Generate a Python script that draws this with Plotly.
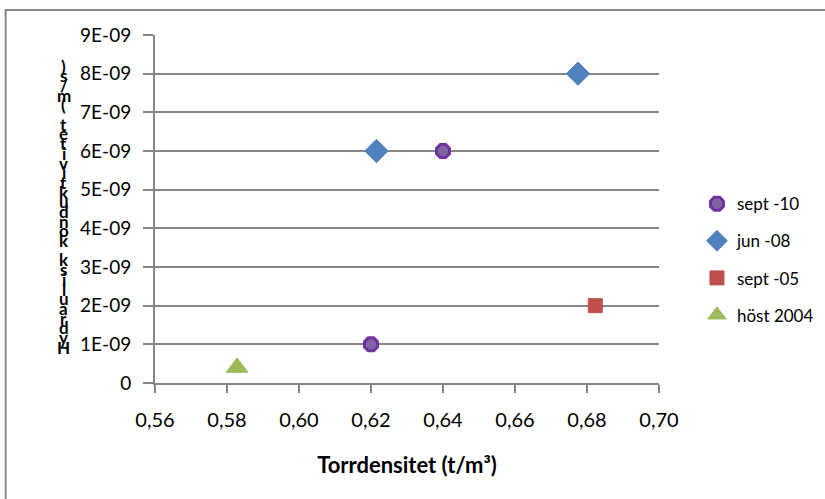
import plotly.graph_objects as go

# ---- data ----
series_names = ["sept -10", "jun -08", "sept -05", "höst 2004"]
sept10_x = [0.640, 0.620]
sept10_y = [6.0e-9, 1.0e-9]
jun08_x = [0.6215, 0.6775]
jun08_y = [6.0e-9, 8.0e-9]
sept05_x = [0.6823]
sept05_y = [2.0e-9]
host04_x = [0.5828]
host04_y = [0.40e-9]

x_tickvals = [0.56, 0.58, 0.60, 0.62, 0.64, 0.66, 0.68, 0.70]
x_ticktext = ["0,56", "0,58", "0,60", "0,62", "0,64", "0,66", "0,68", "0,70"]
y_tickvals = [0, 1e-9, 2e-9, 3e-9, 4e-9, 5e-9, 6e-9, 7e-9, 8e-9, 9e-9]
y_ticktext = ["0", "1E-09", "2E-09", "3E-09", "4E-09", "5E-09", "6E-09", "7E-09", "8E-09", "9E-09"]

x_title = "Torrdensitet (t/m³)"
y_title = "Hydraulisk konduktivitet (m/s)"

# ---- layout geometry ----
W, H = 825, 499
L, R, T, B = 154.5, 825 - 659, 35, 499 - 382.7
PW, PH = W - L - R, H - T - B

def px2paper_x(px):
    return (px - L) / PW

def px2paper_y(py):
    return (H - B - py) / PH

FONT = "Lato"
GRID = "#868686"

fig = go.Figure()
fig.add_trace(go.Scatter(x=sept10_x, y=sept10_y, mode="markers", name=series_names[0],
                         legendgroup="a",
                         marker=dict(symbol="octagon", size=14, color="#8064A2",
                                     line=dict(color="#7030A0", width=3))))
fig.add_trace(go.Scatter(x=jun08_x, y=jun08_y, mode="markers", name=series_names[1],
                         legendgroup="b",
                         marker=dict(symbol="diamond", size=18, color="#4F81BD",
                                     line=dict(color="#4F81BD", width=1))))
fig.add_trace(go.Scatter(x=sept05_x, y=sept05_y, mode="markers", name=series_names[2],
                         legendgroup="c",
                         marker=dict(symbol="square", size=14, color="#C0504D",
                                     line=dict(color="#C0504D", width=1))))
fig.add_trace(go.Scatter(x=host04_x, y=host04_y, mode="markers", name=series_names[3],
                         legendgroup="d",
                         marker=dict(symbol="triangle-up", size=19, color="#9BBB59",
                                     line=dict(color="#9BBB59", width=1))))

# stacked y-axis title, one character per line (bottom = first char)
annotations = []
step = 9.69
for i, ch in enumerate(y_title):
    if ch == " ":
        continue
    annotations.append(dict(text=ch, xref="paper", yref="paper",
                            x=px2paper_x(63), y=px2paper_y(347 - i * step),
                            xanchor="center", yanchor="middle", showarrow=False,
                            font=dict(family=FONT, size=17, color="black", weight="bold")))

fig.update_layout(
    width=W, height=H,
    margin=dict(l=L, r=R, t=T, b=B, pad=0, autoexpand=False),
    paper_bgcolor="white", plot_bgcolor="white",
    font=dict(family=FONT, size=19, color="black"),
    showlegend=True,
    legend=dict(x=px2paper_x(697), xanchor="left", y=px2paper_y(186), yanchor="top",
                font=dict(family=FONT, size=17, color="black"),
                tracegroupgap=12, traceorder="grouped", bgcolor="rgba(0,0,0,0)"),
    annotations=annotations,
    shapes=[dict(type="rect", xref="paper", yref="paper",
                 x0=px2paper_x(5), x1=px2paper_x(835), y0=px2paper_y(10), y1=px2paper_y(510),
                 line=dict(color="#878787", width=2), layer="below")],
)
fig.update_xaxes(range=[0.56, 0.70], tickvals=x_tickvals, ticktext=x_ticktext,
                 showgrid=False, zeroline=False, showline=True, linecolor=GRID, linewidth=2,
                 ticks="outside", ticklen=8, tickwidth=2, tickcolor=GRID,
                 ticklabelstandoff=10, tickfont=dict(size=20),
                 title=dict(text=x_title, font=dict(family=FONT, size=22, weight="bold"), standoff=28))
fig.update_yaxes(range=[0, 9e-9], tickvals=y_tickvals, ticktext=y_ticktext,
                 showgrid=True, gridcolor=GRID, gridwidth=2, zeroline=False,
                 showline=True, linecolor=GRID, linewidth=2,
                 ticks="outside", ticklen=10, tickwidth=2, tickcolor=GRID,
                 ticklabelstandoff=8, tickfont=dict(size=19))

fig.write_html("out.html")
